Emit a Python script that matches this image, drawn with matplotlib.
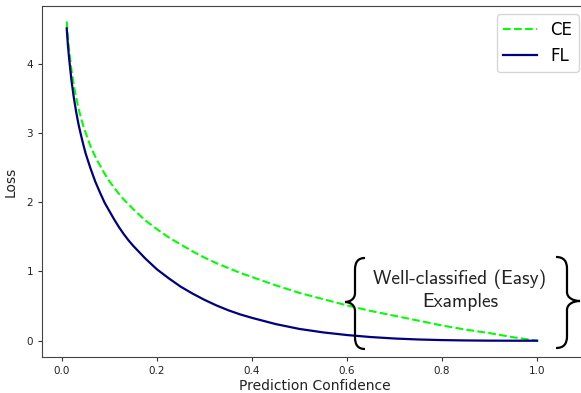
import matplotlib.pyplot as plt
import numpy as np
from matplotlib.path import Path
from matplotlib.patches import PathPatch

# values
conf = [0.01, 0.0125, 0.015, 0.02, 0.025, 0.03, 0.035, 0.04, 0.045, 0.05, 0.06,
        0.07, 0.08, 0.09, 0.1, 0.11, 0.12, 0.13, 0.14, 0.15, 0.175, 0.2, 0.225,
        0.25, 0.275, 0.3, 0.325, 0.35, 0.375, 0.4, 0.45, 0.5, 0.55, 0.6, 0.65,
        0.7, 0.75, 0.8, 0.85, 0.9, 0.95, 1.0]
ce_loss = [4.61, 4.38, 4.20, 3.91, 3.69, 3.51, 3.35, 3.22, 3.10, 3.00, 2.81,
           2.66, 2.53, 2.41, 2.30, 2.21, 2.12, 2.04, 1.97, 1.90, 1.74, 1.61, 1.49,
           1.39, 1.29, 1.20, 1.12, 1.05, 0.98, 0.92, 0.80, 0.69, 0.60, 0.51, 0.43,
           0.36, 0.29, 0.22, 0.16, 0.11, 0.05, 0.0]
fl_loss = [4.51, 4.27, 4.08, 3.76, 3.51, 3.30, 3.12, 2.97, 2.83, 2.70, 2.49,
           2.30, 2.14, 1.99, 1.87, 1.75, 1.64, 1.54, 1.45, 1.37, 1.19, 1.03, 0.90,
           0.78, 0.68, 0.59, 0.51, 0.44, 0.38, 0.33, 0.24, 0.17, 0.12, 0.082, 0.053,
           0.032, 0.018, 0.009, 0.004, 0.001, 0.0001, 0.0]

W, H = 581, 393
fig = plt.figure(figsize=(W / 100, H / 100), dpi=100)
ax = fig.add_axes([42 / W, (H - 357) / H, (587 - 42) / W, (357 - 6) / H])

ax.plot(conf, ce_loss, '--', color='#00ff00', lw=1.5, label='CE')
ax.plot(conf, fl_loss, '-', color='#000080', lw=1.6, label='FL')

ax.set_xlim(-0.042, 1.105)
ax.set_ylim(-0.235, 4.833)
ax.set_xticks([0.0, 0.2, 0.4, 0.6, 0.8, 1.0])
ax.set_yticks([0, 1, 2, 3, 4])
ax.tick_params(labelsize=7.5, length=3, color='#333333', labelcolor='#222222')
for s in ax.spines.values():
    s.set_color('#444444')
ax.set_xlabel('Prediction Confidence', fontsize=10, color='#222222', labelpad=2)
ax.set_ylabel('Loss', fontsize=10, color='#222222', labelpad=6)
ax.legend(loc='upper right', fontsize=12, handlelength=2.0)


def px(x, y):
    return (x / W, 1 - y / H)


def brace(xs, xt, xe, y0, ym, y1):
    # stem at xs, tip at xt, ends at xe
    pts = [(xe, y0), (xs + (xe - xs) * 0.3, y0), (xs, y0 + 4), (xs, y0 + 12),
           (xs, ym - 9),
           (xs, ym - 3), (xs + (xt - xs) * 0.5, ym), (xt, ym),
           (xs + (xt - xs) * 0.5, ym), (xs, ym + 3), (xs, ym + 9),
           (xs, y1 - 12),
           (xs, y1 - 4), (xs + (xe - xs) * 0.3, y1), (xe, y1)]
    codes = [Path.MOVETO, Path.CURVE4, Path.CURVE4, Path.CURVE4,
             Path.LINETO,
             Path.CURVE4, Path.CURVE4, Path.CURVE4,
             Path.CURVE4, Path.CURVE4, Path.CURVE4,
             Path.LINETO,
             Path.CURVE4, Path.CURVE4, Path.CURVE4]
    p = Path([px(a, b) for a, b in pts], codes)
    fig.add_artist(PathPatch(p, fc='none', ec='black', lw=1.6,
                             transform=fig.transFigure, clip_on=False))


brace(355, 345, 365, 258, 302, 349)
brace(567, 580, 556, 257, 301, 348)

fig.text(460 / W, 1 - 290 / H, 'Well-classified (Easy)\nExamples',
         ha='center', va='center', fontsize=14, family='cmss10',
         color='#222222', linespacing=1.3)

fig.savefig('out.png', dpi=100)
